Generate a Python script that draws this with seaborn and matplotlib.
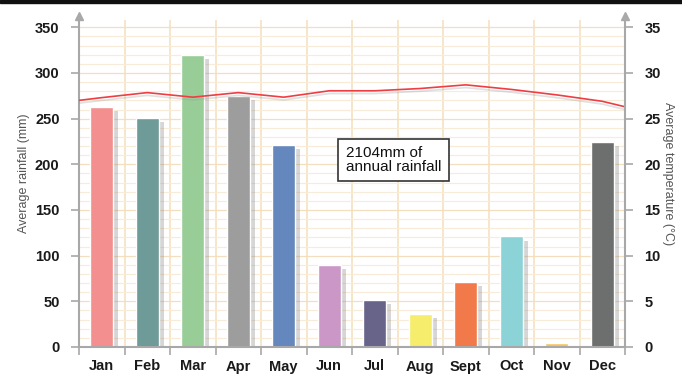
import matplotlib
matplotlib.use("Agg")
import matplotlib.pyplot as plt
import matplotlib.patheffects as pe
from matplotlib.patches import Rectangle
from matplotlib.ticker import FixedLocator, MultipleLocator
import numpy as np
import pandas as pd
import seaborn as sns

# ---- data ----
months = ["Jan", "Feb", "Mar", "Apr", "May", "Jun", "Jul", "Aug", "Sept", "Oct", "Nov", "Dec"]
rainfall = [263, 251, 320, 275, 221, 90, 51, 36, 71, 121, 4, 224]
temperature = [27.3, 27.85, 27.35, 27.85, 27.35, 28.05, 28.05, 28.3, 28.7, 28.2, 27.6, 26.9]
temp_start = 27.0   # value at left edge of the plot
temp_end = 26.3     # value at right edge of the plot
bar_colors = ["#f38f8f", "#6e9a97", "#99cd97", "#9c9d9c", "#6487bd", "#ca97c7",
              "#676389", "#f5ed6b", "#f27a4a", "#8bd3d7", "#fbc35f", "#6d6e6e"]
rain_ticks = [0, 50, 100, 150, 200, 250, 300, 350]
temp_ticks = [0, 5, 10, 15, 20, 25, 30, 35]
note = "2104mm of\nannual rainfall"

sns.set_theme(style="white")
plt.rcParams["font.family"] = ["Liberation Sans", "DejaVu Sans"]

W, H = 682, 378
fig = plt.figure(figsize=(W / 100, H / 100), dpi=100)
fig.patch.set_facecolor("white")
ax = fig.add_axes([79 / W, 31 / H, 546 / W, 327 / H])

df = pd.DataFrame({"month": months, "rain": rainfall})
sns.barplot(data=df, x="month", y="rain", hue="month", palette=bar_colors,
            width=0.5, legend=False, ax=ax, saturation=1, zorder=2)
for p in ax.patches:
    p.set_path_effects([pe.SimplePatchShadow(offset=(3.6, -2.9), shadow_rgbFace="#7a7a7a", alpha=0.3),
                        pe.Normal()])

ax.set_xlim(-0.5, len(months) - 0.5)
ax.set_ylim(0, 358)
ax.set_xlabel("")
ax.set_xticks(range(len(months)))
ax.set_xticklabels(months, fontweight="bold", fontsize=10.5, color="#1a1a1a")
ax.xaxis.set_minor_locator(FixedLocator(np.arange(-0.5, len(months), 1)))
ax.tick_params(axis="x", which="major", length=0, pad=9)
ax.tick_params(axis="x", which="minor", length=6, width=1.2, color="#a8a8a8", direction="out", bottom=True)

ax.set_yticks(rain_ticks)
ax.set_yticklabels([str(t) for t in rain_ticks], fontweight="bold", fontsize=10.5, color="#1a1a1a")
ax.yaxis.set_minor_locator(MultipleLocator(10))
ax.tick_params(axis="y", which="major", length=6, width=1.2, color="#a8a8a8", direction="out", left=True, pad=8)
ax.tick_params(axis="y", which="minor", length=0)

ax.grid(True, which="major", axis="y", color="#f3dfc0", lw=0.9)
ax.grid(True, which="minor", axis="y", color="#f8ebd8", lw=0.8)
ax.grid(True, which="minor", axis="x", color="#f4dfba", lw=1.1)
ax.set_axisbelow(True)

for s in ["top", "right"]:
    ax.spines[s].set_visible(False)
for s in ["left", "bottom"]:
    ax.spines[s].set_color("#a8a8a8")
    ax.spines[s].set_linewidth(1.5)

ax.set_ylabel("Average rainfall (mm)", fontsize=9, color="#555555", ha="center", va="center")
ax.yaxis.set_label_coords(-0.1, 0.53)

# temperature axis
ax2 = ax.twinx()
ax2.set_ylim(0, 35.8)
ax2.set_yticks(temp_ticks)
ax2.set_yticklabels([str(t) for t in temp_ticks], fontweight="bold", fontsize=10.5, color="#1a1a1a")
ax2.tick_params(axis="y", length=6, width=1.2, color="#a8a8a8", direction="out", right=True, pad=8)
ax2.grid(False)
for s in ["top", "left", "bottom"]:
    ax2.spines[s].set_visible(False)
ax2.spines["right"].set_color("#a8a8a8")
ax2.spines["right"].set_linewidth(1.5)

xs = np.concatenate([[-0.5], np.arange(len(months)), [len(months) - 0.5]])
ts = [temp_start] + temperature + [temp_end]
sns.lineplot(x=xs, y=ts, ax=ax2, color="#ef3d44", lw=1.2, sort=False,
             path_effects=[pe.SimpleLineShadow(offset=(0, -2.0), shadow_color="#999999", alpha=0.3),
                           pe.Normal()])
ax2.set_ylabel("Average temperature (°C)", fontsize=9, color="#555555", rotation=270,
               ha="center", va="center")
ax2.yaxis.set_label_coords(1.079, 0.53)

# arrow heads on the vertical axes
for xa in (0, 1):
    ax.plot([xa], [1.012], marker="^", ms=6, color="#a8a8a8", transform=ax.transAxes,
            clip_on=False, zorder=10)

ax2.text(0.489, 0.572, note, transform=ax.transAxes, ha="left", va="center",
         fontsize=11, color="#111111", linespacing=0.95, zorder=10,
         bbox=dict(boxstyle="square,pad=0.5", fc="white", ec="#333333", lw=1.2))

fig.patches.append(Rectangle((0, 1 - 3 / H), 1, 3 / H, transform=fig.transFigure,
                             color="#111111", zorder=20))

fig.savefig("out.png", dpi=100)
